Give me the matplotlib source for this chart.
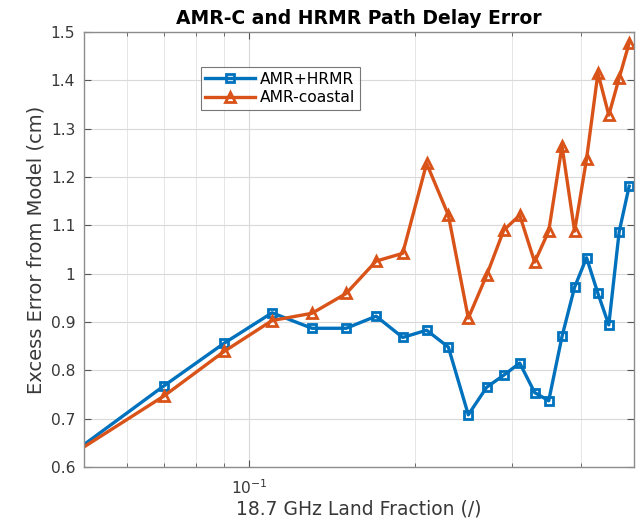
import numpy as np
import matplotlib
matplotlib.use("Agg")
import matplotlib.pyplot as plt
from matplotlib.ticker import LogLocator, FuncFormatter, FixedLocator, NullFormatter

# 18.7 GHz land-fraction bin centres
land_fraction = [0.03, 0.07, 0.09, 0.11, 0.13, 0.15, 0.17, 0.19, 0.21, 0.23, 0.25,
                 0.27, 0.29, 0.31, 0.33, 0.35, 0.37, 0.39, 0.41, 0.43, 0.45, 0.47, 0.49]

# Excess path delay error relative to the model (cm)
amr_hrmr = [0.46, 0.768, 0.856, 0.919, 0.887, 0.887, 0.912, 0.868, 0.883, 0.848, 0.708,
            0.765, 0.790, 0.815, 0.754, 0.737, 0.870, 0.972, 1.033, 0.959, 0.894, 1.087, 1.181]
amr_coastal = [0.48, 0.747, 0.839, 0.903, 0.918, 0.959, 1.026, 1.042, 1.228, 1.121, 0.908,
               0.997, 1.090, 1.121, 1.024, 1.088, 1.264, 1.088, 1.237, 1.415, 1.328, 1.405, 1.477]

series_names = ["AMR+HRMR", "AMR-coastal"]
y_ticks = [0.6, 0.7, 0.8, 0.9, 1.0, 1.1, 1.2, 1.3, 1.4, 1.5]

blue = "#0072BD"
orange = "#D95319"
axis_gray = "#383838"

fig = plt.figure(figsize=(6.4, 5.22), dpi=100)
ax = fig.add_axes([0.1306, 0.1054, 0.8600, 0.8333])

ax.plot(land_fraction, amr_hrmr, color=blue, lw=2.4, marker="s", ms=5.5,
        mfc="none", mec=blue, mew=2.0, label=series_names[0])
ax.plot(land_fraction, amr_coastal, color=orange, lw=2.4, marker="^", ms=7.5,
        mfc="none", mec=orange, mew=2.0, label=series_names[1])

ax.set_xscale("log")
ax.set_xlim(0.05, 0.5)
ax.set_ylim(0.6, 1.5)

ax.xaxis.set_major_locator(FixedLocator([0.1]))
ax.xaxis.set_major_formatter(FuncFormatter(lambda v, p: r"$10^{-1}$"))
ax.xaxis.set_minor_locator(LogLocator(base=10, subs=np.arange(2, 10)))
ax.xaxis.set_minor_formatter(NullFormatter())
ax.yaxis.set_major_locator(FixedLocator(y_ticks))
ax.yaxis.set_major_formatter(FuncFormatter(lambda v, p: f"{v:g}"))

ax.grid(True, which="major", color="#d9d9d9", lw=0.8)
ax.grid(True, which="minor", axis="x", color="#e6e6e6", lw=0.7)
ax.set_axisbelow(True)

for s in ax.spines.values():
    s.set_color("#8c8c8c")
    s.set_linewidth(1.0)

ax.tick_params(which="both", direction="in", top=True, right=True,
               color="#555555", labelcolor=axis_gray, labelsize=11.2)
ax.tick_params(which="major", length=5, width=0.8)
ax.tick_params(which="minor", length=3, width=0.6)
ax.tick_params(axis="x", pad=8)
ax.tick_params(axis="y", pad=6)

ax.set_title("AMR-C and HRMR Path Delay Error", fontsize=13.5, fontweight="bold",
             color="black", pad=6)
ax.set_xlabel("18.7 GHz Land Fraction (/)", fontsize=13.5, color=axis_gray, labelpad=2)
ax.set_ylabel("Excess Error from Model (cm)", fontsize=14, color=axis_gray, labelpad=4)

leg = ax.legend(loc="upper left", bbox_to_anchor=(0.213, 0.919), fontsize=11.2,
                frameon=True, fancybox=False, edgecolor="#555555", handlelength=3.2,
                borderpad=0.3, labelspacing=0.2, handletextpad=0.3, borderaxespad=0)
leg.get_frame().set_linewidth(0.8)

fig.savefig("out.png", dpi=100)
